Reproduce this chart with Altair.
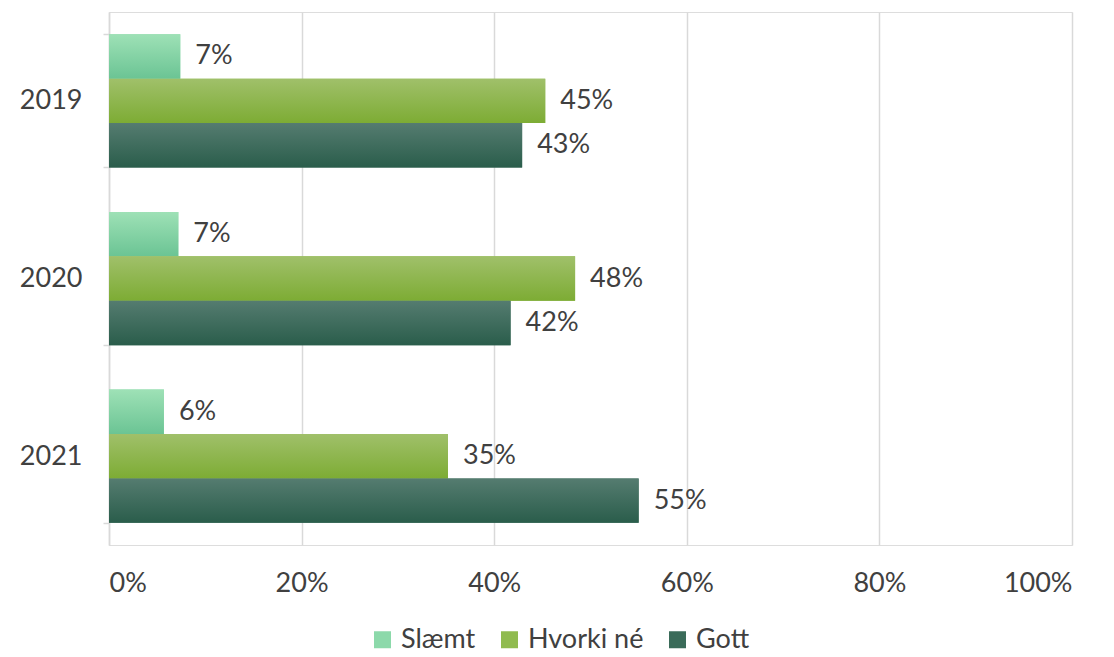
import altair as alt
import pandas as pd

years = ["2019", "2020", "2021"]
series = ["Slæmt", "Hvorki né", "Gott"]
slaemt = [0.074, 0.072, 0.057]
hvorki = [0.453, 0.484, 0.352]
gott = [0.429, 0.417, 0.550]

rows = []
for i, y in enumerate(years):
    for s, vals in zip(series, [slaemt, hvorki, gott]):
        rows.append({"year": y, "series": s, "value": vals[i]})
df = pd.DataFrame(rows)

legend_colors = ["#8cd9aa", "#90bb4f", "#3a6b59"]
grads = {
    "Slæmt": ("#9ee1b6", "#6bc494"),
    "Hvorki né": ("#a0c06a", "#7dac34"),
    "Gott": ("#557c70", "#2a5d4b"),
}
FONT = "Lato"
TXT = "#404040"
FS = 27

y_enc = alt.Y("year:N", sort=years, title=None,
              scale=alt.Scale(paddingInner=0.25, paddingOuter=0.125),
              axis=alt.Axis(labelFontSize=FS, labelColor=TXT, labelFont=FONT,
                            domainColor="#d9d9d9", domainWidth=1.5,
                            tickColor="#d9d9d9", tickSize=6, tickWidth=1.5,
                            tickBand="extent", labelPadding=21, grid=False))
x_enc = alt.X("value:Q", title=None,
              scale=alt.Scale(domain=[0, 1], nice=False),
              axis=alt.Axis(format=".0%", values=[0, 0.2, 0.4, 0.6, 0.8, 1.0],
                            grid=True, gridColor="#d9d9d9", gridWidth=1.5,
                            domain=False, ticks=False, labelPadding=25,
                            labelFontSize=FS, labelColor=TXT, labelFont=FONT))
yoff = alt.YOffset("series:N", sort=series,
                   scale=alt.Scale(domain=series, paddingInner=0, paddingOuter=0))

base = alt.Chart(df).mark_bar().encode(
    x=x_enc, y=y_enc, yOffset=yoff,
    color=alt.Color("series:N", sort=series,
                    scale=alt.Scale(domain=series, range=legend_colors),
                    legend=alt.Legend(title=None, orient="none", direction="horizontal",
                                      legendX=260, legendY=614,
                                      symbolType="square", symbolSize=289,
                                      symbolStrokeWidth=0,
                                      labelFontSize=FS, labelColor=TXT, labelFont=FONT,
                                      columnPadding=20, labelOffset=5))
)

layers = [base]
for s in series:
    top, bot = grads[s]
    g = alt.Gradient(gradient="linear",
                     stops=[alt.GradientStop(color=top, offset=0),
                            alt.GradientStop(color=bot, offset=1)],
                     x1=0, x2=0, y1=0, y2=1)
    layers.append(
        alt.Chart(df).transform_filter(alt.datum.series == s)
        .mark_bar(color=g)
        .encode(x=x_enc, y=y_enc, yOffset=yoff)
    )

labels = alt.Chart(df).mark_text(align="left", baseline="middle", dx=15,
                                 fontSize=FS, font=FONT, color=TXT).encode(
    x=x_enc, y=y_enc, yOffset=yoff,
    text=alt.Text("value:Q", format=".0%"))
layers.append(labels)

chart = alt.layer(*layers).properties(
    width=963, height=533,
    autosize=alt.AutoSizeParams(type="none"),
    padding={"left": 101, "top": 4, "right": 30, "bottom": 110},
).configure_view(stroke=None).configure(font=FONT)

chart.save("out.html", embed_options={"renderer": "svg", "actions": False})
